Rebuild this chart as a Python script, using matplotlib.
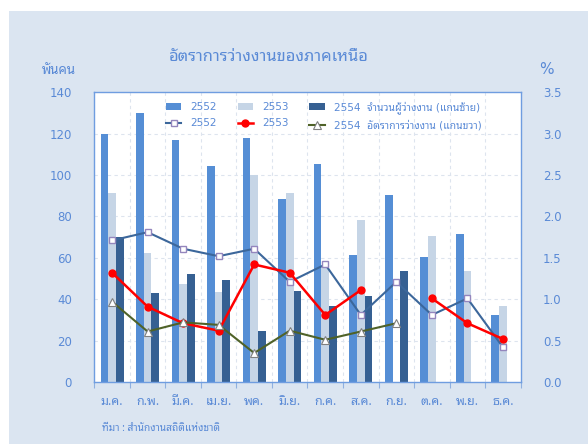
import numpy as np
import matplotlib
matplotlib.use('Agg')
import matplotlib.pyplot as plt
from matplotlib import font_manager as fm
from matplotlib.patches import Rectangle

# data (thousand persons / percent)
months = ['ม.ค.', 'ก.พ.', 'มี.ค.', 'เม.ย.', 'พค.', 'มิ.ย.',
          'ก.ค.', 'ส.ค.', 'ก.ย.', 'ต.ค.', 'พ.ย.', 'ธ.ค.']
unemp_2552 = [120, 130, 117, 104.5, 118, 88.5, 105.5, 61.5, 90.5, 60.5, 71.5, 32.5]
unemp_2553 = [91.5, 62.5, 47.5, 43.5, 100, 91.5, 56, 78.5, np.nan, 70.5, 53.5, 36.5]
unemp_2554 = [70, 43, 52, 49.5, 24.5, 44, 36.5, 41.5, 53.5, np.nan, np.nan, np.nan]
rate_2552 = [1.71, 1.81, 1.61, 1.52, 1.61, 1.21, 1.42, 0.81, 1.21, 0.81, 1.01, 0.42]
rate_2553 = [1.32, 0.91, 0.71, 0.62, 1.42, 1.32, 0.81, 1.11, np.nan, 1.01, 0.71, 0.52]
rate_2554 = [0.97, 0.61, 0.72, 0.69, 0.35, 0.62, 0.51, 0.61, 0.71, np.nan, np.nan, np.nan]


def first_font(cands):
    names = {f.name for f in fm.fontManager.ttflist}
    for n in cands:
        if n and n in names:
            return n
    return None


thai = first_font(['Noto Sans Thai Looped', 'Noto Sans Thai', 'IBM Plex Sans Thai Looped',
                   'Loma', 'Tahoma', 'Sarabun', 'Garuda'])
fams = ['DejaVu Sans', thai] if thai else ['DejaVu Sans']
thai_fams = [thai, 'DejaVu Sans'] if thai else ['DejaVu Sans']
plt.rcParams['font.family'] = fams

txt = '#5a8ad6'
bg = '#dbe5f1'

fig = plt.figure(figsize=(5.88, 4.44), dpi=100, facecolor='white')
fig.patches.append(Rectangle((9 / 588, 0), 1, 1 - 11 / 444, transform=fig.transFigure,
                             facecolor=bg, edgecolor='none', zorder=-10))

ax = fig.add_axes([94.3 / 588, 62 / 444, 426.4 / 588, 289.7 / 444])
ax.set_facecolor('white')
x = np.arange(len(months))
w = 0.215
ax.bar(x - w, unemp_2552, w, color='#558ed5', label='2552', zorder=2)
ax.bar(x, unemp_2553, w, color='#c6d5e6', label='2553', zorder=2)
ax.bar(x + w, unemp_2554, w, color='#366092',
       label='2554  จำนวนผู้ว่างงาน (แกนซ้าย)', zorder=2)
ax.set_xlim(-0.5, len(months) - 0.5)
ax.set_ylim(0, 140)
ax.set_yticks(np.arange(0, 141, 20))
ax.set_xticks(x)
ax.set_xticklabels(months, family=thai_fams)
ax.set_xticks(np.arange(-0.5, len(months)), minor=True)
ax.tick_params(axis='x', which='major', length=0, pad=9, colors=txt, labelsize=9)
ax.tick_params(axis='x', which='minor', length=4, color='#8fb0e0', width=0.8)
ax.tick_params(axis='y', length=0, pad=16, colors=txt, labelsize=8.5)
ax.grid(axis='y', color='#dde4ee', ls=(0, (3, 3)), lw=0.8, zorder=0)
ax.grid(axis='x', which='minor', color='#dde4ee', ls=(0, (3, 3)), lw=0.8, zorder=0)
for s in ax.spines.values():
    s.set_color('#6f9de0')
    s.set_linewidth(1.0)

ax2 = ax.twinx()
ax2.plot(x, rate_2552, color='#3c679b', lw=1.5, marker='s', ms=5,
         mfc='white', mec='#9486bd', mew=1, label='2552')
ax2.plot(x, rate_2553, color='#ff0000', lw=1.8, marker='o', ms=5,
         mfc='#ff0000', mec='#ff0000', label='2553')
ax2.plot(x, rate_2554, color='#4f6228', lw=1.5, marker='^', ms=6,
         mfc='white', mec='#808080', mew=0.8,
         label='2554  อัตราการว่างงาน (แกนขวา)')
ax2.set_ylim(0, 3.5)
ax2.set_yticks(np.arange(0, 3.51, 0.5))
ax2.set_yticklabels(['%.1f' % v for v in np.arange(0, 3.51, 0.5)])
ax2.tick_params(axis='y', length=0, pad=16, colors=txt, labelsize=8.5)
for s in ax2.spines.values():
    s.set_visible(False)

h1, l1 = ax.get_legend_handles_labels()
h2, l2 = ax2.get_legend_handles_labels()
hs, ls = [], []
for a, b, c, d in zip(h1, l1, h2, l2):
    hs += [a, c]
    ls += [b, d]
leg = ax2.legend(hs, ls, ncol=3, loc='upper left', bbox_to_anchor=(0.158, 0.985),
                 frameon=False, fontsize=7.5, handlelength=1.5, handletextpad=0.85,
                 columnspacing=2.0, labelspacing=0.6, borderaxespad=0)
for t in leg.get_texts():
    t.set_color(txt)

title = fig.text(269 / 588, 1 - 57 / 444, 'อัตราการว่างงานของภาคเหนือ', ha='center',
                 va='center', color=txt, fontsize=13, family=thai_fams)
ylab = fig.text(59 / 588, 1 - 70 / 444, 'พันคน', ha='center', va='center', color=txt,
                fontsize=12, family=thai_fams)
fig.text(546 / 588, 1 - 70 / 444, '%', ha='center', va='center', color=txt, fontsize=11)
src = fig.text(102 / 588, 1 - 428 / 444, 'ที่มา : สำนักงานสถิติแห่งชาติ', ha='left',
               va='center', color=txt, fontsize=9, family=thai_fams)

# size the headings so their widths match the original layout
r = fig.canvas.get_renderer()
for t, wpx in [(title, 200), (ylab, 34), (src, 118)]:
    bw = t.get_window_extent(r).width
    t.set_fontsize(t.get_fontsize() * wpx / bw)

fig.savefig('out.png', dpi=100, facecolor=fig.get_facecolor())
